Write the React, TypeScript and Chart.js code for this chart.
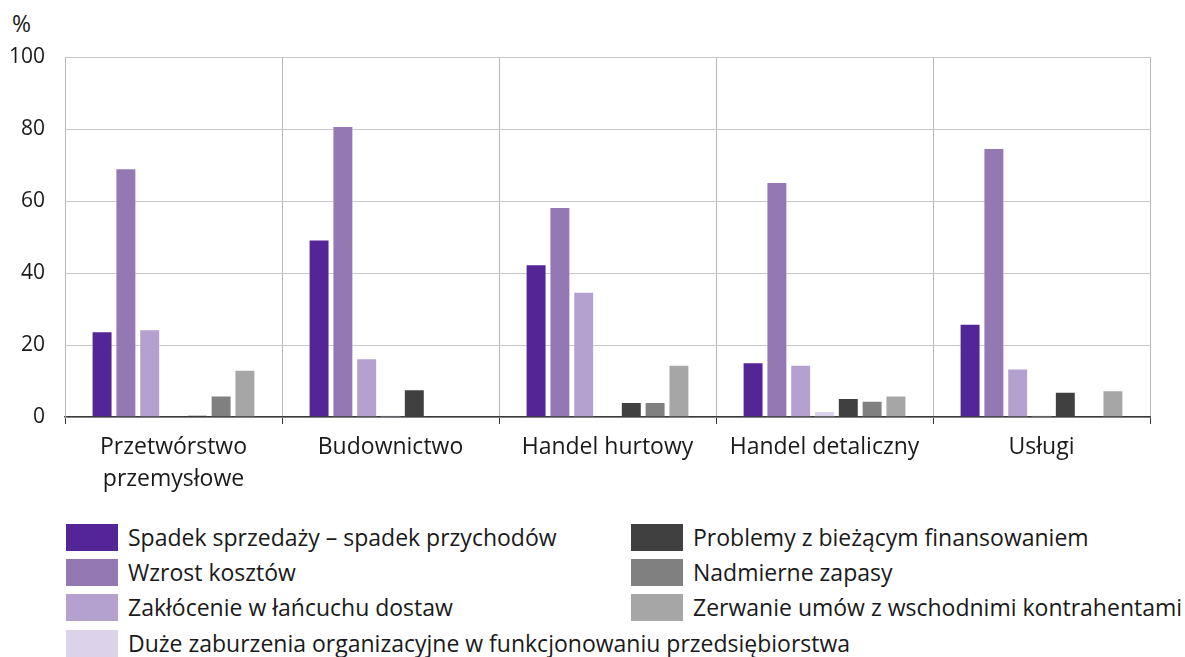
import React, { useEffect, useRef } from "react";
import { Chart, registerables } from "chart.js";

Chart.register(...registerables);

const categories: (string | string[])[] = [
  ["Przetwórstwo", "przemysłowe"],
  "Budownictwo",
  "Handel hurtowy",
  "Handel detaliczny",
  "Usługi",
];

const seriesNames = [
  "Spadek sprzedaży – spadek przychodów",
  "Wzrost kosztów",
  "Zakłócenie w łańcuchu dostaw",
  "Duże zaburzenia organizacyjne w funkcjonowaniu przedsiębiorstwa",
  "Problemy z bieżącym finansowaniem",
  "Nadmierne zapasy",
  "Zerwanie umów z wschodnimi kontrahentami",
];

const spadekSprzedazy = [23.8, 49.3, 42.4, 15.2, 25.9];
const wzrostKosztow = [69.1, 80.8, 58.3, 65.3, 74.7];
const zaklocenieDostaw = [24.4, 16.3, 34.8, 14.5, 13.5];
const zaburzeniaOrganizacyjne = [0, 0.6, 0, 1.7, 0.6];
const problemyFinansowanie = [0.6, 7.7, 4.2, 5.3, 7.0];
const nadmierneZapasy = [6.0, 0, 4.2, 4.5, 0];
const zerwanieUmow = [13.1, 0, 14.5, 6.0, 7.4];

const seriesValues = [
  spadekSprzedazy,
  wzrostKosztow,
  zaklocenieDostaw,
  zaburzeniaOrganizacyjne,
  problemyFinansowanie,
  nadmierneZapasy,
  zerwanieUmow,
];

const colors = ["#542596", "#9378b3", "#b4a1cf", "#dcd3ea", "#404040", "#808080", "#a6a6a6"];

const yTicks = [0, 20, 40, 60, 80, 100];

const FONT = "'Open Sans', 'Noto Sans', sans-serif";
const TEXT = "#1a1a1a";

export default function App() {
  const ref = useRef<HTMLCanvasElement | null>(null);

  useEffect(() => {
    if (!ref.current) return;
    const chart = new Chart(ref.current, {
      type: "bar",
      data: {
        labels: categories,
        datasets: seriesNames.map((name, i) => ({
          label: name,
          data: seriesValues[i],
          backgroundColor: colors[i],
          borderColor: "rgba(255,255,255,0.45)",
          borderWidth: 1,
          categoryPercentage: 0.768,
          barPercentage: 0.88,
        })),
      },
      options: {
        animation: false,
        responsive: false,
        maintainAspectRatio: false,
        layout: { padding: { top: 57, right: 35, left: 0, bottom: 0 } },
        plugins: { legend: { display: false }, tooltip: { enabled: false } },
        scales: {
          x: {
            grid: {
              offset: true,
              color: "#b8b8b8",
              lineWidth: 1,
              drawTicks: true,
              tickLength: 7,
              tickColor: "#3a3a3a",
            },
            border: { display: true, color: "#3a3a3a", width: 1.5 },
            ticks: {
              color: TEXT,
              font: { family: FONT, size: 23, lineHeight: 1.39 },
              padding: 7,
              maxRotation: 0,
              autoSkip: false,
            },
            afterFit: (s: any) => {
              s.height = 83;
            },
          },
          y: {
            min: 0,
            max: 100,
            afterBuildTicks: (s: any) => {
              s.ticks = yTicks.map((v) => ({ value: v }));
            },
            grid: { color: "#c8c8c8", lineWidth: 1, drawTicks: false },
            border: { display: true, color: "#b8b8b8", width: 1 },
            ticks: {
              color: TEXT,
              font: { family: FONT, size: 21 },
              padding: 20,
            },
            afterFit: (s: any) => {
              s.width = 65;
            },
          },
        },
      },
    });
    return () => chart.destroy();
  }, []);

  const legendLeft = [0, 1, 2, 3];
  const legendRight = [4, 5, 6];
  const rowTop = [524, 559, 594, 630];

  const item = (i: number, left: number, top: number) => (
    <div
      key={i}
      style={{
        position: "absolute",
        left,
        top,
        height: 27,
        display: "flex",
        alignItems: "center",
        whiteSpace: "nowrap",
      }}
    >
      <div style={{ width: 52, height: 27, background: colors[i], marginRight: 10, flex: "none" }} />
      <span style={{ fontFamily: FONT, fontSize: 23, color: TEXT, lineHeight: "27px" }}>{seriesNames[i]}</span>
    </div>
  );

  return (
    <div
      style={{
        position: "absolute",
        left: 0,
        top: 0,
        width: 1185,
        height: 657,
        background: "#fff",
        overflow: "hidden",
      }}
    >
      <div
        style={{
          position: "absolute",
          left: 12,
          top: 7,
          fontFamily: FONT,
          fontSize: 23,
          color: TEXT,
        }}
      >
        %
      </div>
      <canvas
        ref={ref}
        width={1185}
        height={500}
        style={{ position: "absolute", left: 0, top: 0, width: 1185, height: 500 }}
      />
      {legendLeft.map((i, r) => item(i, 66, rowTop[r]))}
      {legendRight.map((i, r) => item(i, 631, rowTop[r]))}
    </div>
  );
}
